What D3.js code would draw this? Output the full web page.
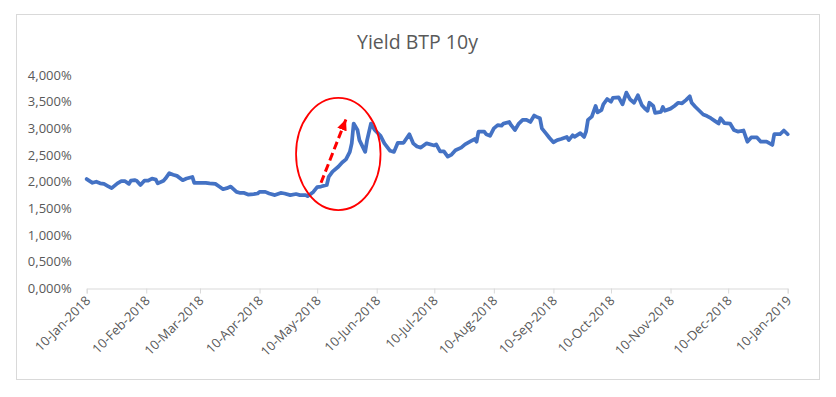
<!DOCTYPE html>
<html>
<head>
<meta charset="utf-8">
<script src="https://cdn.jsdelivr.net/npm/d3@7"></script>
<style>
    body { margin: 0; background: #fff; }
    text { font-family: "Open Sans", "Noto Sans", sans-serif; fill: #595959; }
</style>
</head>
<body>
<svg id="chart" width="836" height="397"></svg>
<script>
// 日付（読み取り値）
const dates = [
    "2018-01-10","2018-01-13","2018-01-15","2018-01-17","2018-01-19","2018-01-21","2018-01-23","2018-01-26","2018-01-28","2018-01-30",
    "2018-02-01","2018-02-02","2018-02-04","2018-02-05","2018-02-07","2018-02-09","2018-02-11","2018-02-13","2018-02-15","2018-02-16",
    "2018-02-19","2018-02-20","2018-02-22","2018-02-24","2018-02-26","2018-03-01","2018-03-03","2018-03-06","2018-03-07","2018-03-10",
    "2018-03-13","2018-03-15","2018-03-18","2018-03-20","2018-03-22","2018-03-24","2018-03-26","2018-03-29","2018-03-31","2018-04-02",
    "2018-04-04","2018-04-07","2018-04-09","2018-04-10","2018-04-13","2018-04-15","2018-04-18","2018-04-21","2018-04-23","2018-04-26",
    "2018-04-29","2018-05-01","2018-05-04","2018-05-05","2018-05-08","2018-05-10","2018-05-12","2018-05-15","2018-05-16","2018-05-18",
    "2018-05-21","2018-05-23","2018-05-25","2018-05-27","2018-05-28","2018-05-29","2018-05-31","2018-06-01","2018-06-04","2018-06-05",
    "2018-06-07","2018-06-09","2018-06-12","2018-06-14","2018-06-17","2018-06-19","2018-06-21","2018-06-24","2018-06-27","2018-06-29",
    "2018-07-01","2018-07-03","2018-07-06","2018-07-10","2018-07-11","2018-07-13","2018-07-15","2018-07-17","2018-07-19","2018-07-21",
    "2018-07-24","2018-07-26","2018-07-29","2018-07-31","2018-08-01","2018-08-02","2018-08-05","2018-08-06","2018-08-08","2018-08-10",
    "2018-08-12","2018-08-14","2018-08-15","2018-08-18","2018-08-19","2018-08-21","2018-08-23","2018-08-25","2018-08-27","2018-08-29",
    "2018-08-31","2018-09-01","2018-09-03","2018-09-04","2018-09-06","2018-09-08","2018-09-10","2018-09-12","2018-09-14","2018-09-17",
    "2018-09-18","2018-09-20","2018-09-21","2018-09-24","2018-09-26","2018-09-27","2018-09-28","2018-09-30","2018-10-02","2018-10-03",
    "2018-10-05","2018-10-06","2018-10-08","2018-10-10","2018-10-11","2018-10-14","2018-10-16","2018-10-18","2018-10-20","2018-10-22",
    "2018-10-24","2018-10-26","2018-10-28","2018-10-29","2018-10-30","2018-11-01","2018-11-02","2018-11-05","2018-11-06","2018-11-07",
    "2018-11-10","2018-11-12","2018-11-14","2018-11-16","2018-11-18","2018-11-20","2018-11-21","2018-11-23","2018-11-25","2018-11-27",
    "2018-11-29","2018-12-01","2018-12-03","2018-12-05","2018-12-06","2018-12-08","2018-12-11","2018-12-13","2018-12-15","2018-12-18",
    "2018-12-20","2018-12-22","2018-12-25","2018-12-27","2018-12-30","2019-01-02","2019-01-03","2019-01-06","2019-01-08","2019-01-10"
];

// 利回り（%）
const yields = [
    2.05,1.98,2.00,1.97,1.96,1.92,1.88,1.97,2.01,2.01,
    1.96,2.02,2.03,2.02,1.94,2.02,2.02,2.06,2.04,1.97,
    2.02,2.06,2.16,2.13,2.11,2.03,2.06,2.09,1.98,1.98,
    1.98,1.97,1.96,1.91,1.86,1.88,1.91,1.81,1.79,1.79,
    1.76,1.77,1.78,1.81,1.81,1.78,1.75,1.79,1.78,1.75,
    1.77,1.75,1.75,1.73,1.81,1.90,1.91,1.94,2.09,2.19,
    2.28,2.36,2.42,2.56,2.72,3.09,2.97,2.78,2.56,2.78,
    3.09,2.97,2.86,2.72,2.58,2.56,2.73,2.73,2.89,2.72,
    2.66,2.64,2.72,2.68,2.70,2.57,2.57,2.47,2.51,2.59,
    2.64,2.70,2.76,2.80,2.75,2.94,2.94,2.89,2.86,3.00,
    3.06,3.05,3.09,3.12,3.06,2.97,3.09,3.16,3.16,3.12,
    3.24,3.22,3.19,3.00,2.91,2.82,2.74,2.78,2.80,2.84,
    2.78,2.87,2.84,2.91,2.84,2.94,3.16,3.22,3.42,3.30,
    3.34,3.45,3.55,3.50,3.57,3.58,3.45,3.67,3.54,3.48,
    3.62,3.44,3.36,3.33,3.48,3.42,3.29,3.31,3.40,3.33,
    3.37,3.42,3.48,3.47,3.53,3.60,3.48,3.40,3.33,3.26,
    3.23,3.19,3.14,3.09,3.19,3.10,3.09,2.97,2.94,2.96,
    2.75,2.83,2.83,2.75,2.75,2.69,2.89,2.89,2.96,2.89
];

// 目盛り
const xTickLabels = [
    "10-Jan-2018","10-Feb-2018","10-Mar-2018","10-Apr-2018","10-May-2018","10-Jun-2018","10-Jul-2018",
    "10-Aug-2018","10-Sep-2018","10-Oct-2018","10-Nov-2018","10-Dec-2018","10-Jan-2019"
];
const yTicks = [0, 0.5, 1, 1.5, 2, 2.5, 3, 3.5, 4];

// 注釈（楕円と矢印）: [日付, 値]
const ellipseCenter = ["2018-05-21", 2.52];
const ellipseEdge = ["2018-06-12", 3.57];
const arrowFrom = ["2018-05-12", 1.98];
const arrowTo = ["2018-05-25", 3.17];

const title = "Yield BTP 10y";

function main() {
    const svg = d3.select("#chart");
    const parseDate = d3.timeParse("%Y-%m-%d");
    const parseTick = d3.timeParse("%d-%b-%Y");

    const left = 86.7, right = 787.7, top = 75, bottom = 288.5;

    const x = d3.scaleTime()
        .domain([parseTick(xTickLabels[0]), parseTick(xTickLabels[xTickLabels.length - 1])])
        .range([left, right]);
    const y = d3.scaleLinear().domain([0, 4]).range([bottom, top]);

    const locale = d3.formatLocale({ decimal: ",", thousands: ".", grouping: [3], currency: ["", "€"] });
    const fmt = locale.format(".3f");

    // 外枠
    svg.append("rect")
        .attr("x", 16.5).attr("y", 14.5)
        .attr("width", 803).attr("height", 365)
        .attr("fill", "#fff")
        .attr("stroke", "#d9d9d9");

    // タイトル
    svg.append("text")
        .attr("x", (16 + 819) / 2)
        .attr("y", 49)
        .attr("text-anchor", "middle")
        .style("font-size", "19.5px")
        .text(title);

    // x軸
    const xAxis = d3.axisBottom(x)
        .tickValues(xTickLabels.map(parseTick))
        .tickSize(5)
        .tickFormat(d3.timeFormat("%d-%b-%Y"));
    const gx = svg.append("g")
        .attr("transform", `translate(0,${bottom})`)
        .call(xAxis);
    gx.select(".domain").attr("stroke", "#d9d9d9");
    gx.selectAll(".tick line").attr("stroke", "#d9d9d9");
    gx.selectAll(".tick text")
        .attr("fill", "#595959")
        .style("font-size", "13px")
        .attr("text-anchor", "end")
        .attr("dy", null)
        .attr("y", 0)
        .attr("transform", "translate(4,13) rotate(-45)");

    // y軸（線なし）
    const yAxis = d3.axisLeft(y)
        .tickValues(yTicks)
        .tickSize(0)
        .tickPadding(15)
        .tickFormat(d => fmt(d) + "%");
    const gy = svg.append("g")
        .attr("transform", `translate(${left},0)`)
        .call(yAxis);
    gy.select(".domain").remove();
    gy.selectAll(".tick text")
        .attr("fill", "#595959")
        .style("font-size", "13px");

    // 折れ線
    const points = dates.map((d, i) => ({ date: parseDate(d), value: yields[i] }));
    const line = d3.line()
        .x(d => x(d.date))
        .y(d => y(d.value));
    svg.append("path")
        .datum(points)
        .attr("fill", "none")
        .attr("stroke", "#4472C4")
        .attr("stroke-width", 3.75)
        .attr("stroke-linejoin", "round")
        .attr("stroke-linecap", "round")
        .attr("d", line);

    // 矢印の先端
    svg.append("defs").append("marker")
        .attr("id", "arrowhead")
        .attr("markerUnits", "userSpaceOnUse")
        .attr("refX", 11)
        .attr("refY", 5)
        .attr("markerWidth", 12)
        .attr("markerHeight", 10)
        .attr("orient", "auto")
        .append("polygon")
        .attr("points", "0 0, 11 5, 0 10")
        .attr("fill", "#FF0000");

    // 楕円
    const cx = x(parseDate(ellipseCenter[0])), cy = y(ellipseCenter[1]);
    svg.append("ellipse")
        .attr("cx", cx)
        .attr("cy", cy)
        .attr("rx", x(parseDate(ellipseEdge[0])) - cx)
        .attr("ry", cy - y(ellipseEdge[1]))
        .attr("fill", "none")
        .attr("stroke", "#FF0000")
        .attr("stroke-width", 1.75);

    // 破線矢印
    svg.append("line")
        .attr("x1", x(parseDate(arrowFrom[0])))
        .attr("y1", y(arrowFrom[1]))
        .attr("x2", x(parseDate(arrowTo[0])))
        .attr("y2", y(arrowTo[1]))
        .attr("stroke", "#FF0000")
        .attr("stroke-width", 3)
        .attr("stroke-dasharray", "8,4")
        .attr("marker-end", "url(#arrowhead)");
}

main();
</script>
</body>
</html>
